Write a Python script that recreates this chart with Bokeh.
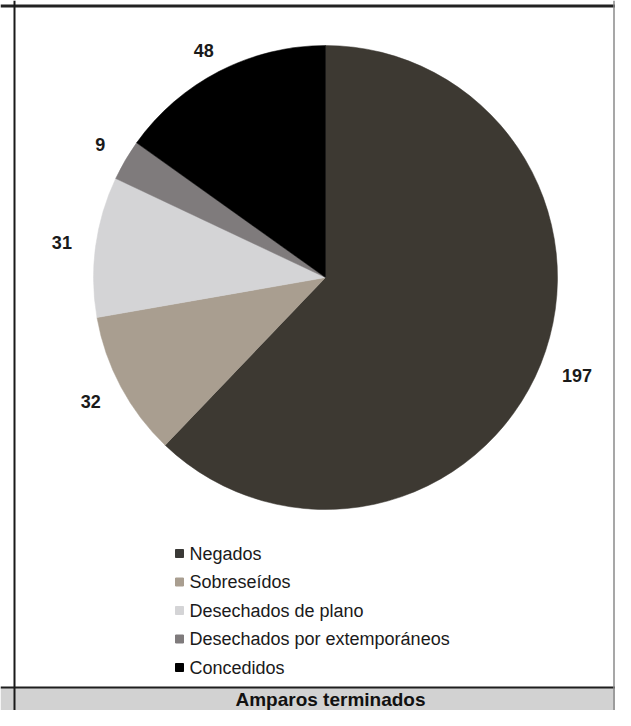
import math
from bokeh.plotting import figure
from bokeh.models import Range1d, Span, ColumnDataSource
from bokeh.core.properties import value
from bokeh.embed import file_html
from bokeh.resources import INLINE

# ---- data ----
categories = ["Negados", "Sobreseídos", "Desechados de plano",
              "Desechados por extemporáneos", "Concedidos"]
counts = [197, 32, 31, 9, 48]
colors = ["#3d3932", "#a99e90", "#d4d4d6", "#7f7b7c", "#000000"]
legend_colors = ["#3a3936", "#a99e90", "#d4d4d6", "#7f7b7c", "#000000"]
title_text = "Amparos terminados"

W, H = 615, 710
FONT = "Liberation Sans"


def fy(Y):  # screen y (down) -> data y (up)
    return H - Y


p = figure(width=W, height=H, x_range=Range1d(0, W), y_range=Range1d(0, H),
           output_backend="svg", toolbar_location=None, min_border=0)
p.axis.visible = False
p.grid.visible = False
p.outline_line_color = None
p.background_fill_color = "white"
p.border_fill_color = "white"

# ---- pie ----
cx, cy, r = 325, fy(277), 232
total = sum(counts)
starts, ends, mids = [], [], []
cum = 0
for c in counts:
    a0 = math.pi / 2 - 2 * math.pi * cum / total
    cum += c
    a1 = math.pi / 2 - 2 * math.pi * cum / total
    starts.append(a0)
    ends.append(a1)
    mids.append((a0 + a1) / 2)

src = ColumnDataSource(dict(start=starts, end=ends, color=colors))
p.wedge(x=cx, y=cy, radius=r, start_angle="start", end_angle="end",
        direction="clock", fill_color="color", line_color="color",
        line_width=0.5, source=src)

# data labels outside the pie (box edge at a fixed gap from the circle)
gap = 24
lx, ly, labels = [], [], []
for m, c in zip(mids, counts):
    t = str(c)
    hw, hh = 5 * len(t), 7
    ux, uy = math.cos(m), math.sin(m)
    x = cx + (r + gap) * ux + ux * hw
    y = cy + (r + gap) * uy + uy * hh
    y = min(y, fy(50))  # keep inside the plot area
    lx.append(x)
    ly.append(y)
    labels.append(t)
p.text(x=lx, y=ly, text=labels,
       text_font=value(FONT), text_font_style="bold", text_font_size="18px",
       text_color="#1a1a1a", text_align="center", text_baseline="middle")

# ---- legend ----
leg_x = 179
leg_y0 = fy(553)
step = 28.5
ys = [leg_y0 - i * step for i in range(len(categories))]
p.scatter(x=[leg_x] * len(categories), y=ys, marker="square", size=8,
          fill_color=legend_colors, line_color=legend_colors)
p.text(x=[leg_x + 10] * len(categories), y=ys, text=categories,
       text_font=value(FONT), text_font_size="18px", text_color="#1a1a1a",
       text_align="left", text_baseline="middle")

# ---- frame / table borders ----
band_top = fy(687)
p.quad(left=0, right=W, bottom=0, top=band_top, fill_color="#d2d2d2",
       line_color=None)
p.add_layout(Span(location=band_top, dimension="width", line_color="#1e1e1e",
                  line_width=2))
p.add_layout(Span(location=fy(5.5), dimension="width", line_color="#222222",
                  line_width=3))
p.add_layout(Span(location=14, dimension="height", line_color="#1a1a1a",
                  line_width=2))
p.add_layout(Span(location=W - 1.5, dimension="height", line_color="#8a8a8a",
                  line_width=1.5))
p.text(x=[330], y=[fy(699)], text=[title_text], text_font=value(FONT),
       text_font_style="bold", text_font_size="19px", text_color="#111111",
       text_align="center", text_baseline="middle")

open("out.html", "w").write(file_html(p, INLINE))
